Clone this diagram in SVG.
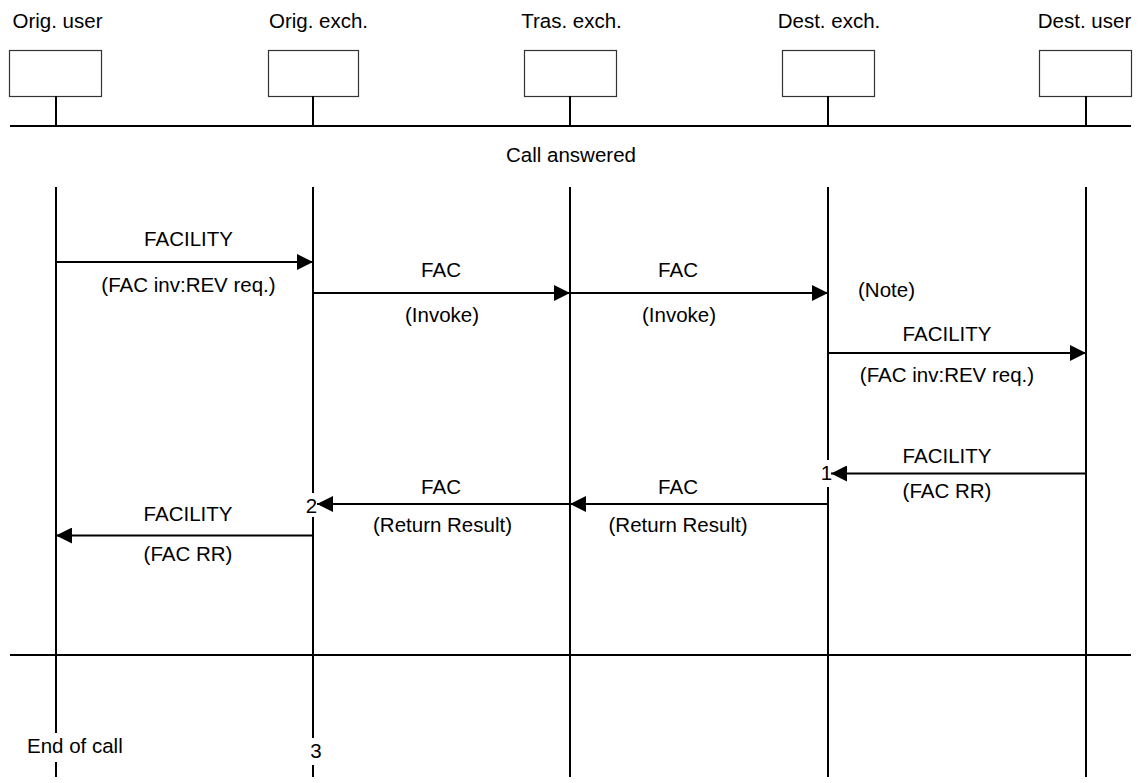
<svg xmlns="http://www.w3.org/2000/svg" width="1141" height="783" viewBox="0 0 1141 783">
  <style>
    text { font-family: "Liberation Sans", Arial, sans-serif; font-size: 20.5px; fill: #000; }
    .c { text-anchor: middle; }
    .box { fill: #fff; stroke: #333; stroke-width: 1.2; }
    .ln { stroke: #000; stroke-width: 2; fill: none; }
    .msg { stroke: #000; stroke-width: 2; fill: none; }
  </style>
  <defs>
    <marker id="ah" viewBox="0 0 16 16" refX="16" refY="8" markerWidth="16" markerHeight="16" markerUnits="userSpaceOnUse" orient="auto">
      <path d="M0,0 L16,8 L0,16 Z" fill="#000"/>
    </marker>
  </defs>
  <rect width="1141" height="783" fill="#fff"/>

  <!-- phase separators -->
  <g id="phases">
    <line class="ln" x1="10" y1="126" x2="1131" y2="126"/>
    <text class="c" x="571" y="162">Call answered</text>
    <line class="ln" x1="10" y1="655" x2="1131" y2="655"/>
  </g>

  <!-- participants: label, box, stem and lifeline -->
  <g id="orig-user">
    <text class="c" x="57.5" y="28">Orig. user</text>
    <rect class="box" x="9.5" y="50.5" width="92" height="46"/>
    <line class="ln" x1="56" y1="96" x2="56" y2="126"/>
    <line class="ln" x1="56" y1="187" x2="56" y2="733"/>
    <line class="ln" x1="56" y1="762" x2="56" y2="777"/>
    <text x="27" y="753">End of call</text>
  </g>
  <g id="orig-exch">
    <text class="c" x="318.5" y="28">Orig. exch.</text>
    <rect class="box" x="268.5" y="50.5" width="90" height="46"/>
    <line class="ln" x1="313" y1="96" x2="313" y2="126"/>
    <line class="ln" x1="313" y1="187" x2="313" y2="493"/>
    <line class="ln" x1="313" y1="517" x2="313" y2="738"/>
    <line class="ln" x1="313" y1="765" x2="313" y2="777"/>
    <text class="c" x="311.5" y="513">2</text>
    <text class="c" x="316" y="758">3</text>
  </g>
  <g id="tras-exch">
    <text class="c" x="571.5" y="28">Tras. exch.</text>
    <rect class="box" x="524.5" y="50.5" width="92" height="46"/>
    <line class="ln" x1="570" y1="96" x2="570" y2="126"/>
    <line class="ln" x1="570" y1="187" x2="570" y2="777"/>
  </g>
  <g id="dest-exch">
    <text class="c" x="829" y="28">Dest. exch.</text>
    <rect class="box" x="782.5" y="50.5" width="92" height="46"/>
    <line class="ln" x1="828" y1="96" x2="828" y2="126"/>
    <line class="ln" x1="828" y1="187" x2="828" y2="460"/>
    <line class="ln" x1="828" y1="487" x2="828" y2="777"/>
    <text x="858" y="296.5">(Note)</text>
    <text class="c" x="826.5" y="480">1</text>
  </g>
  <g id="dest-user">
    <text class="c" x="1084.5" y="28">Dest. user</text>
    <rect class="box" x="1039.5" y="50.5" width="92" height="46"/>
    <line class="ln" x1="1086" y1="96" x2="1086" y2="126"/>
    <line class="ln" x1="1086" y1="187" x2="1086" y2="777"/>
  </g>

  <!-- messages -->
  <g id="connectors">
    <line class="msg" x1="56" y1="262" x2="313" y2="262" marker-end="url(#ah)"/>
    <text class="c" x="188.5" y="246">FACILITY</text>
    <text class="c" x="188.5" y="292">(FAC inv:REV req.)</text>

    <line class="msg" x1="313" y1="293" x2="570" y2="293" marker-end="url(#ah)"/>
    <text class="c" x="441" y="277">FAC</text>
    <text class="c" x="442" y="321.5">(Invoke)</text>

    <line class="msg" x1="570" y1="293" x2="828" y2="293" marker-end="url(#ah)"/>
    <text class="c" x="678" y="277">FAC</text>
    <text class="c" x="679" y="321.5">(Invoke)</text>

    <line class="msg" x1="828" y1="353" x2="1086" y2="353" marker-end="url(#ah)"/>
    <text class="c" x="947" y="341">FACILITY</text>
    <text class="c" x="947" y="381.5">(FAC inv:REV req.)</text>

    <line class="msg" x1="1086" y1="473.5" x2="831" y2="473.5" marker-end="url(#ah)"/>
    <text class="c" x="947" y="463">FACILITY</text>
    <text class="c" x="947" y="497.5">(FAC RR)</text>

    <line class="msg" x1="828" y1="504" x2="570" y2="504" marker-end="url(#ah)"/>
    <text class="c" x="678" y="494">FAC</text>
    <text class="c" x="678" y="531.5">(Return Result)</text>

    <line class="msg" x1="570" y1="504" x2="317" y2="504" marker-end="url(#ah)"/>
    <text class="c" x="441" y="494">FAC</text>
    <text class="c" x="442.5" y="531.5">(Return Result)</text>

    <line class="msg" x1="313" y1="535.5" x2="56" y2="535.5" marker-end="url(#ah)"/>
    <text class="c" x="188" y="521">FACILITY</text>
    <text class="c" x="188" y="561">(FAC RR)</text>
  </g>
</svg>
